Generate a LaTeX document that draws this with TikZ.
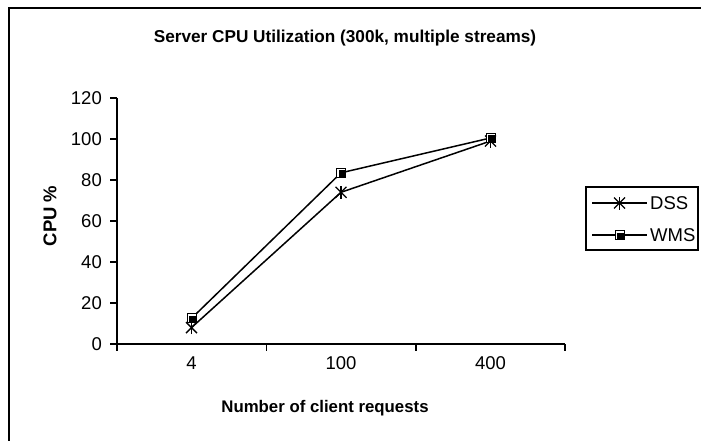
\documentclass[tikz,border=0pt]{standalone}
\usepackage{fontspec}
\setmainfont{Liberation Sans}
\usetikzlibrary{calc}
\begin{document}
\begin{tikzpicture}[x=1pt,y=1pt,
  axisline/.style={line width=1.6pt},
  seriesline/.style={line width=1.5pt},
  ticklabel/.style={font=\fontsize{18.5}{20}\selectfont, inner sep=0pt},
  boldlabel/.style={font=\fontsize{17.2}{19}\selectfont\bfseries, inner sep=0pt},
  starmark/.style={line width=1.3pt},
]
\useasboundingbox (0,0) rectangle (701,440);
\clip (0,0) rectangle (701,440);
\fill[white] (0,0) rectangle (701,440);

% chart frame
\draw[line width=1.6pt] (9,-10) -- (9,432) -- (720,432);

% title
\node[boldlabel] (title) at (345,402) {Server CPU Utilization (300k, multiple streams)};

% axes
\coordinate (origin) at (117,96);
\coordinate (ytop) at (117,342);
\coordinate (xend) at (565,96);
\draw[axisline] (ytop) -- (origin) -- (xend);

% y ticks and labels
\foreach \v in {0,20,...,120} {
  \coordinate (yt\v) at (117,96+\v*2.05);
  \draw[axisline] (yt\v) -- ++(-7,0);
  \node[ticklabel, anchor=east] (yl\v) at ($(yt\v)+(-15,0)$) {\v};
}

% x ticks
\foreach \i/\x in {0/117,1/266.5,2/416,3/565} {
  \coordinate (xt\i) at (\x,96);
  \draw[axisline] (xt\i) -- ++(0,-7);
}
\node[ticklabel] (c1) at (191.5,77) {4};
\node[ticklabel] (c2) at (341,77) {100};
\node[ticklabel] (c3) at (490.5,77) {400};

% axis titles
\node[boldlabel, font=\fontsize{16.8}{19}\selectfont\bfseries] (xtitle) at (325,32) {Number of client requests};
\node[boldlabel, font=\fontsize{18.5}{20}\selectfont\bfseries, rotate=90] (ytitle) at (50,224) {CPU \%};

% data points
\coordinate (d1) at (191.5,96+8*2.05);
\coordinate (d2) at (341,96+74*2.05);
\coordinate (d3) at (490.5,96+99*2.05);
\coordinate (w1) at (191.5,96+12.5*2.05);
\coordinate (w2) at (341,96+83.5*2.05);
\coordinate (w3) at (490.5,96+100.5*2.05);

\draw[seriesline] (d1) -- (d2) -- (d3);
\draw[seriesline] (w1) -- (w2) -- (w3);

% marker shapes
\newcommand{\starat}[1]{%
  \draw[starmark] ($(#1)+(-5.5,-5.5)$) -- ($(#1)+(5.5,5.5)$);
  \draw[starmark] ($(#1)+(-5.5,5.5)$) -- ($(#1)+(5.5,-5.5)$);
  \draw[starmark] ($(#1)+(0,-6.5)$) -- ($(#1)+(0,6.5)$);
}
\newcommand{\squareat}[1]{%
  \filldraw[fill=white, draw=black, line width=1pt] ($(#1)+(-4.5,-4.5)$) rectangle ($(#1)+(4.5,4.5)$);
  \fill[black] ($(#1)+(-2.5,-4.5)$) rectangle ($(#1)+(4.5,2.5)$);
}
\foreach \p in {d1,d2,d3} {\starat{\p}}
\foreach \p in {w1,w2,w3} {\squareat{\p}}

% legend
\draw[line width=1.3pt] (586,190) rectangle (698,253);
\coordinate (la) at (592,237);
\coordinate (lb) at (647,237);
\coordinate (lm) at (619.5,237);
\coordinate (ma) at (592,205);
\coordinate (mb) at (647,205);
\coordinate (mm) at (619.5,205);
\draw[seriesline] (la) -- (lb);
\draw[seriesline] (ma) -- (mb);
\starat{lm}
\squareat{mm}
\node[ticklabel, anchor=west] (ldss) at (650,237) {DSS};
\node[ticklabel, anchor=west] (lwms) at (650,205) {WMS};
\end{tikzpicture}
\end{document}
